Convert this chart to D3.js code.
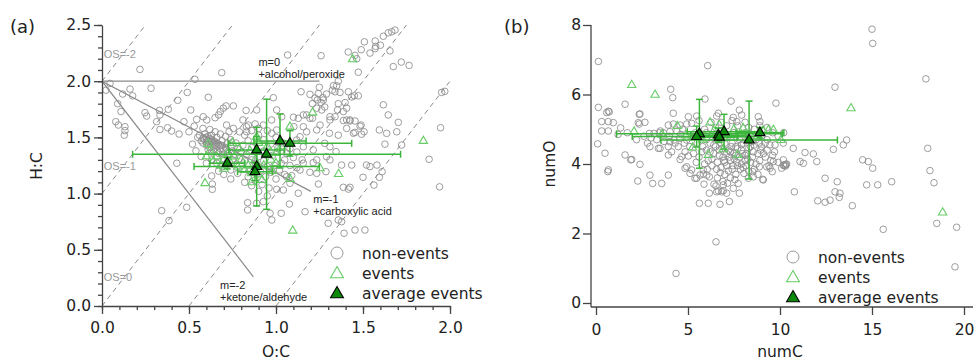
<!DOCTYPE html>
<html>
<head>
<meta charset="utf-8">
<script src="https://cdn.jsdelivr.net/npm/d3@7"></script>
<style>
  body { margin: 0; background: #fff; }
  svg { display: block; font-family: "DejaVu Sans", Verdana, sans-serif; }
</style>
</head>
<body>
<svg id="chart" width="974" height="362"></svg>
<script>
// ---- panel (a): O:C vs H:C ----
const nonEventsA = [
  [0.218,2.105],[0.282,1.937],[0.688,2.076],[0.534,2.017],[0.046,1.98],[0.023,1.92],[0.161,1.93],[0.119,1.886],
  [0.176,1.87],[0.49,1.90],[0.435,1.83],[0.611,1.857],[0.09,1.80],[0.109,1.73],[0.247,1.72],[0.257,1.69],
  [0.33,1.74],[0.333,1.70],[0.381,1.75],[0.51,1.744],[0.079,1.64],[0.094,1.61],[0.132,1.595],[0.132,1.56],
  [0.128,1.52],[0.314,1.64],[0.333,1.57],[0.377,1.586],[0.4,1.557],[0.443,1.53],[0.471,1.64],[0.544,1.66],
  [0.582,1.684],[0.602,1.655],[0.65,1.675],[0.67,1.70],[0.68,1.73],[0.697,1.76],[0.713,1.78],[0.755,1.78],
  [0.828,1.74],[0.889,1.744],[0.716,1.61],[0.755,1.58],[0.81,1.655],[0.83,1.595],[0.79,1.55],[0.43,1.27],
  [1.067,2.233],[1.259,2.227],[1.508,2.35],[1.57,2.358],[1.573,2.31],[1.617,2.40],[1.645,2.43],[1.665,2.44],
  [1.684,2.455],[1.49,2.28],[1.415,2.26],[1.454,2.23],[1.464,2.20],[1.54,2.25],[1.57,2.29],[1.6,2.32],
  [1.655,2.27],[1.674,2.13],[1.72,2.17],[1.765,2.14],[1.473,2.08],[1.358,2.0],[1.349,1.96],[1.33,1.96],
  [1.324,1.92],[1.339,1.906],[1.368,1.90],[1.416,1.906],[1.435,1.86],[1.45,1.87],[1.473,1.87],[1.29,1.886],
  [1.27,1.853],[1.243,1.89],[1.259,1.81],[1.234,1.76],[1.263,1.744],[1.358,1.80],[1.397,1.81],[1.406,1.76],
  [1.354,1.744],[1.387,1.73],[1.339,1.684],[1.31,1.684],[1.144,1.906],[1.195,1.883],[1.224,1.85],[1.209,1.80],
  [0.985,1.853],[1.28,1.77],[1.617,1.79],[1.645,1.70],[1.703,1.634],[1.636,1.536],[1.694,1.55],[1.454,1.646],
  [1.425,1.646],[1.406,1.655],[1.489,1.61],[1.454,1.545],[1.492,1.528],[1.952,1.90],[1.97,1.91],[1.176,1.70],
  [1.195,1.67],[1.253,1.61],[1.234,1.566],[1.946,1.586],[1.88,1.305],[1.722,1.432],[1.626,1.44],[1.594,1.566],
  [1.483,1.60],[1.445,1.537],[1.377,1.254],[1.435,1.254],[1.52,1.254],[1.54,1.24],[1.58,1.254],[1.307,1.537],
  [1.358,1.52],[1.406,1.58],[1.387,1.65],[1.425,1.655],[1.31,1.655],[1.50,1.145],[1.594,1.145],[1.61,1.195],
  [1.94,1.06],[1.387,1.056],[1.425,1.056],[1.358,0.765],[1.391,0.647],[1.454,0.676],[1.511,0.676],[1.30,0.736],
  [1.167,0.839],[1.077,0.907],[1.244,1.085],[1.03,0.825],[0.966,0.825],[0.976,0.765],[0.837,0.919],[0.837,0.854],
  [0.889,0.914],[0.927,0.928],[1.004,1.038],[1.042,1.032],[1.08,1.092],[1.128,1.003],[1.061,1.15],[0.343,0.848],
  [0.385,0.76],[0.487,0.878],[0.63,1.157],[0.634,1.085],[0.634,1.038],[1.563,1.076],[1.416,1.04],[1.377,0.75],
  [1.234,1.18],[1.214,1.275],[1.287,1.195],[1.506,1.55],[1.249,1.946],[1.238,1.833],[1.272,1.833],[1.21,1.67],
  [1.1,1.68],[1.128,1.67],[1.157,1.70],[1.103,1.595],[1.157,1.595],[1.176,1.55],[1.138,1.506],[1.119,1.477],
  [1.004,1.744],[1.033,1.684],[0.975,1.655],[0.927,1.61],[0.841,1.61],[0.831,1.55],[0.899,1.58],[0.975,1.537],
  [1.004,1.566],[1.28,1.447],[1.31,1.417],[1.345,1.373],[1.29,1.328],[1.31,1.30],[1.157,1.417],[1.214,1.388],
  [1.234,1.30],[1.157,1.27],[1.138,1.21],[1.195,1.19],
  [0.56,1.52],[0.58,1.49],[0.6,1.50],[0.61,1.47],[0.62,1.45],[0.63,1.48],[0.64,1.44],[0.65,1.46],
  [0.66,1.42],[0.67,1.44],[0.68,1.40],[0.69,1.43],[0.7,1.39],[0.71,1.41],[0.72,1.37],[0.6,1.43],
  [0.62,1.41],[0.64,1.39],[0.66,1.38],[0.58,1.45],[0.57,1.47],[0.55,1.50],[0.59,1.53],[0.63,1.52],
  [0.66,1.50],[0.69,1.47],[0.72,1.45],[0.74,1.42],[0.75,1.38],[0.73,1.34],[0.7,1.35],[0.67,1.36],
  [0.63,1.37],[0.61,1.39],[0.65,1.55],[0.68,1.53],[0.62,1.57],[0.71,1.51],[0.74,1.48],[0.77,1.45],
  [0.78,1.40],[0.76,1.35],[0.8,1.37],[0.81,1.43],[0.84,1.47],[0.86,1.41],[0.83,1.35],[0.79,1.31],
  [0.75,1.30],[0.7,1.31],[0.66,1.33],[0.72,1.28],[0.77,1.26],[0.82,1.29],[0.86,1.30],[0.9,1.33],
  [0.88,1.27],[0.93,1.29],[0.95,1.24],[0.91,1.20],[0.97,1.19],[0.99,1.25],[1.02,1.21],[0.94,1.15],
  [1.0,1.13],[1.05,1.17],[1.03,1.27],[1.08,1.25],[1.1,1.32],[1.06,1.36],[1.01,1.40],[0.97,1.44],
  [0.93,1.48],[0.9,1.52],[0.95,1.56],[1.0,1.50],[1.04,1.45],[1.08,1.40],[1.12,1.37],[1.15,1.30],
  [1.12,1.23],[1.09,1.16],[0.85,1.20],[0.81,1.22],[0.78,1.18],[0.74,1.21],[0.69,1.24],[0.66,1.27],
  [0.63,1.30],[0.84,1.15],[0.88,1.12],[0.92,1.08],[0.96,1.05],[0.86,1.07],[0.82,1.10],[0.9,1.02],
  [0.95,0.98],[0.74,1.13],[0.7,1.17],[0.67,1.20],[0.6,1.27],[0.57,1.33],[0.54,1.38],[0.52,1.44],
  [0.5,1.55],[0.53,1.6],[0.58,1.58],[0.86,1.56],[0.82,1.52],[0.88,1.62],[0.93,1.38],[0.98,1.34],
  [1.05,1.30],[0.73,1.55],[0.59,1.48],[0.61,1.51],[0.6,1.46],[0.62,1.49],[0.63,1.46],[0.65,1.43],
  [0.64,1.47],[0.66,1.45],[0.68,1.43],[0.61,1.44]
];
const eventsA = [
  [1.44,2.195],[1.21,1.72],[1.847,1.468],[1.36,1.174],[1.08,1.595],[0.592,1.092],[1.096,0.67],[1.08,1.13],
  [0.611,1.44],[1.253,1.225],[0.889,1.506],
  [0.62,1.38],[0.66,1.33],[0.7,1.30],[0.74,1.27],[0.78,1.24],[0.82,1.21],[0.86,1.18],[0.9,1.17],
  [0.84,1.25],[0.8,1.30],[0.76,1.33],[0.72,1.35],[0.68,1.25],[0.64,1.29],[0.88,1.30],[0.93,1.25],
  [0.97,1.30],[1.0,1.36],[0.95,1.42],[0.9,1.45],[0.85,1.38],[0.79,1.40],[1.03,1.42],[0.98,1.20],
  [0.92,1.12],[0.7,1.22],[0.6,1.33],[0.75,1.45],[0.86,1.10],[1.0,1.27]
];
const avgOC    = [0.72, 0.889, 0.946, 1.023, 1.08, 0.889, 0.879];
const avgHC    = [1.27, 1.388, 1.35, 1.468, 1.447, 1.24, 1.195];
const avgOCerr = [0.10, 0.16, 0.77, 0.15, 0.355, 0.36, 0.10];
const avgHCerr = [0.05, 0.12, 0.49, 0.24, 0.113, 0.35, 0.08];

const osValues = [-2, -1, 0, 1, 2];
const xTicksA = [0, 0.5, 1, 1.5, 2];
const yTicksA = [0, 0.5, 1, 1.5, 2, 2.5];

// ---- panel (b): numC vs numO ----
const nonEventsB = [
  [0.13,6.95],[15.0,7.88],[15.04,7.47],[17.93,6.45],[12.99,6.21],[6.07,6.83],[4.06,6.15],[4.17,5.91],
  [5.92,5.87],[0.13,5.63],[0.67,5.52],[1.58,5.72],[4.2,5.46],[7.34,5.81],[9.78,5.75],[7.79,5.55],
  [0.31,5.22],[0.67,5.22],[0.94,5.19],[0.31,4.95],[0.67,4.95],[0.09,4.58],[0.49,4.31],[1.58,4.26],
  [1.89,4.12],[2.39,3.99],[2.35,5.15],[2.66,5.2],[2.35,5.43],[1.34,5.04],[2.9,4.88],[3.15,4.88],
  [3.44,4.9],[3.66,4.9],[3.93,5.12],[4.2,5.15],[4.57,5.12],[4.93,5.15],[5.2,5.17],[4.02,4.93],
  [2.93,4.5],[3.48,4.45],[3.93,4.5],[3.93,4.26],[4.11,4.35],[4.66,4.21],[5.02,4.23],[4.84,4.35],
  [4.47,4.5],[4.24,4.69],[4.57,4.74],[4.93,4.69],[5.2,4.79],
  [10.27,3.97],[10.32,3.99],[10.22,3.95],[10.36,4.0],[10.3,3.94],
  [10.72,4.45],[11.36,4.33],[11.81,4.29],[12.0,4.07],[12.45,3.59],[12.9,4.42],[13.44,4.55],[13.62,4.69],
  [14.49,4.12],[14.8,4.07],[15.04,3.88],[18.15,3.81],[18.03,4.45],[13.11,3.49],[12.99,3.2],[13.26,3.16],
  [13.22,3.04],[12.05,2.94],[12.45,2.9],[12.72,2.96],[13.93,2.8],[14.71,3.4],[15.31,3.4],[16.07,3.49],
  [15.61,2.12],[18.37,3.46],[18.52,2.29],[19.6,2.18],[19.51,1.04],[10.78,3.2],[4.35,0.85],[6.52,1.76],
  [2.27,3.51],[3.08,3.44],[3.57,3.44],[3.93,3.68],[2.93,3.68],[0.64,3.78],[5.62,2.87],[6.1,2.87],
  [6.74,2.84],[7.25,2.92],[7.79,3.16],[7.46,3.3],[6.83,3.2],[6.56,3.2],[6.16,3.16],[5.87,3.42],
  [5.47,3.59],[6.92,3.4],[9.09,3.54],[8.55,3.63],[9.58,3.78],[7.1,3.16],[6.92,3.23],[6.65,3.23],
  [6.52,3.37],[7.73,3.44],[6.41,3.42],[5.11,3.73],[5.38,3.59],[4.84,3.88],[5.83,3.71],[6.16,3.63],
  [9.06,3.56],[8.28,3.59],[8.52,3.78],[8.04,3.73],[8.88,3.92],[9.28,3.92],[9.46,3.88],[10.18,3.97],
  [11.09,4.07],[11.27,4.02],[0.58,5.48],[0.72,5.5],[2.39,5.44],[2.3,5.19],[5.02,5.36],[5.47,5.38],
  [6.56,5.38],[6.65,5.46],[7.46,5.34],[7.92,5.41],[8.82,5.36],[8.91,5.22],[7.65,5.22],[0.67,3.83],
  [1.94,4.13],[4.57,4.13],[4.02,4.64],[3.39,4.45],[9.64,4.07],[10.18,4.12],[10.09,3.88],[9.73,4.55],
  [10.18,4.6],[4.93,3.92],[5.2,3.83],[5.83,3.83],[6.02,3.68],[5.65,3.68],
  [5.5,4.6],[5.8,4.5],[6.0,4.4],[6.2,4.6],[6.4,4.3],[6.5,4.5],[6.7,4.4],[6.9,4.2],
  [7.0,4.6],[7.2,4.4],[7.3,4.1],[7.5,4.3],[7.6,4.5],[7.8,4.2],[7.9,4.4],[8.1,4.1],
  [8.2,4.3],[8.4,4.5],[8.5,4.2],[8.7,4.0],[8.8,4.3],[9.0,4.5],[9.2,4.2],[9.3,4.4],
  [9.5,4.1],[6.1,4.1],[6.3,3.95],[6.6,4.05],[6.8,3.9],[7.1,3.95],[7.4,3.85],[7.7,3.95],
  [8.0,3.9],[8.3,3.8],[8.6,3.85],[7.0,3.7],[7.3,3.6],[7.6,3.7],[6.9,3.5],[5.6,4.2],
  [5.9,4.0],[5.3,4.3],[5.1,4.5],[5.4,4.9],[5.7,4.8],[6.0,4.9],[6.3,4.8],[6.6,4.7],
  [6.9,4.9],[7.2,4.8],[7.5,4.9],[7.8,4.7],[8.1,4.9],[8.4,4.8],[8.7,4.7],[9.0,4.8],
  [9.3,4.7],[9.6,4.9],[9.9,4.8],[10.2,4.9],[5.9,5.0],[6.5,5.05],[7.1,5.1],[7.7,5.1],
  [8.3,5.05],[8.9,5.1],[6.0,4.7],[6.8,4.6],[7.4,4.6],[8.0,4.6],[8.6,4.55],[9.2,4.6],
  [7.1,4.3],[7.9,4.0],[8.9,4.1],[6.4,4.55],[7.7,4.45],[8.3,4.45],[7.0,4.05],[7.5,4.15],
  [8.1,4.25],[6.7,4.25],[7.3,4.35],[7.9,4.55],[8.5,4.65],[6.2,4.35],[9.7,4.35],[9.9,4.05],
  [9.4,3.95],[8.8,3.7],[2.6,4.8],[3.0,4.75],[3.3,4.7],[3.7,4.65],[4.0,4.8],[4.3,4.6],
  [4.6,4.85],[4.8,4.6],[2.2,4.7],[1.7,4.9],[1.2,4.85],[3.5,4.95],[4.4,4.95],[2.8,4.6],
  [6.3,4.15],[6.55,3.85],[6.75,3.75],[7.2,3.8],[7.45,3.95],[7.65,4.05],[7.85,3.85],[8.15,3.95],
  [8.4,4.05],[8.25,4.15],[7.55,3.55],[7.15,3.45],[6.6,3.6],[6.95,4.1],[7.25,4.2],[7.6,4.25],
  [7.95,4.3],[8.55,4.35],[8.95,4.4],[6.85,4.45],[7.35,4.5],[6.55,4.85],[7.05,4.75],[7.6,4.8],
  [8.2,4.7],[8.85,4.6],[9.45,4.55],[5.75,4.35],[5.45,4.05],[6.05,3.85],[9.1,4.3],[9.6,4.25],
  [6.8,5.2],[7.4,5.25],[8.1,5.2],[5.6,5.25],[6.25,5.2],[8.6,5.0],[9.3,5.05],[4.7,5.0]
];
const eventsB = [
  [1.94,6.27],[3.21,5.99],[13.86,5.6],[18.84,2.60],[2.07,4.93],[4.42,5.09],[6.2,5.19],[6.7,5.12],
  [8.0,5.03],[9.37,4.98],[9.64,4.98],[5.25,4.47],[6.11,4.26],[7.7,4.26],[6.92,4.42],[10.05,4.69],
  [5.8,4.7],[7.3,4.75],[7.9,4.85],[8.6,4.8],[9.1,4.95],[4.9,4.82],[3.6,4.85],[6.4,4.95],[7.5,5.0]
];
const avgC    = [5.62, 5.47, 6.96, 6.65, 6.70, 8.32, 8.91];
const avgO    = [4.87, 4.79, 4.93, 4.83, 4.77, 4.69, 4.90];
const avgCerr = [4.5, 3.5, 2.0, 1.5, 1.0, 4.8, 1.3];
const avgOerr = [0.99, 0.3, 0.5, 0.2, 0.15, 1.12, 0.15];

const xTicksB = [0, 5, 10, 15, 20];
const yTicksB = [0, 2, 4, 6, 8];

const legendLabels = ["non-events", "events", "average events"];

// ---------------------------------------------------------------
const FONT = "DejaVu Sans, Verdana, sans-serif";
const ANNOT = "Liberation Sans, Arial, sans-serif";
const AXIS_COL = "#444";
const GRAY = "#8c8c8c";
const EV_GREEN = "#66cc66";
const BAR_GREEN = "#3db53d";
const AVG_FILL = "#0b8a0b";

const svg = d3.select("#chart");

const triEvent = d3.symbol().type(d3.symbolTriangle).size(30);
const triAvg = d3.symbol().type(d3.symbolTriangle).size(44);
const triLegend = d3.symbol().type(d3.symbolTriangle).size(72);

function styleAxis(g) {
  g.attr("font-size", 15.5).attr("font-family", FONT);
  g.select(".domain").attr("stroke", AXIS_COL).attr("stroke-width", 1.3);
  g.selectAll(".tick line").attr("stroke", AXIS_COL).attr("stroke-width", 1.3);
  g.selectAll(".tick text").attr("fill", "#222");
}

function drawPoints(g, x, y, nonEv, ev) {
  g.append("g").selectAll("circle").data(nonEv).join("circle")
    .attr("cx", d => x(d[0])).attr("cy", d => y(d[1])).attr("r", 3.3)
    .attr("fill", "none").attr("stroke", GRAY).attr("stroke-opacity", 0.85).attr("stroke-width", 1);

  g.append("g").selectAll("path").data(ev).join("path")
    .attr("d", triEvent)
    .attr("transform", d => `translate(${x(d[0])},${y(d[1])})`)
    .attr("fill", "none").attr("stroke", EV_GREEN).attr("stroke-width", 1.1);
}

function drawAverages(g, x, y, xs, ys, xe, ye) {
  const bars = g.append("g").attr("stroke", BAR_GREEN).attr("stroke-width", 1.5);
  xs.forEach((v, i) => {
    const cy = y(ys[i]), cx = x(v);
    const x0 = x(v - xe[i]), x1 = x(v + xe[i]);
    const y0 = y(ys[i] - ye[i]), y1 = y(ys[i] + ye[i]);
    bars.append("line").attr("x1", x0).attr("x2", x1).attr("y1", cy).attr("y2", cy);
    bars.append("line").attr("x1", x0).attr("x2", x0).attr("y1", cy - 3.5).attr("y2", cy + 3.5);
    bars.append("line").attr("x1", x1).attr("x2", x1).attr("y1", cy - 3.5).attr("y2", cy + 3.5);
    bars.append("line").attr("x1", cx).attr("x2", cx).attr("y1", y0).attr("y2", y1);
    bars.append("line").attr("x1", cx - 3.5).attr("x2", cx + 3.5).attr("y1", y0).attr("y2", y0);
    bars.append("line").attr("x1", cx - 3.5).attr("x2", cx + 3.5).attr("y1", y1).attr("y2", y1);
  });
  g.append("g").selectAll("path").data(xs).join("path")
    .attr("d", triAvg)
    .attr("transform", (d, i) => `translate(${x(d)},${y(ys[i])})`)
    .attr("fill", AVG_FILL).attr("stroke", "#000").attr("stroke-width", 1.1);
}

function drawLegend(g, lx, ly) {
  const rows = g.append("g");
  legendLabels.forEach((t, i) => {
    const cy = ly + i * 20;
    if (i === 0) {
      rows.append("circle").attr("cx", lx).attr("cy", cy).attr("r", 6)
        .attr("fill", "none").attr("stroke", "#9a9a9a");
    } else {
      rows.append("path").attr("d", triLegend).attr("transform", `translate(${lx},${cy + 1})`)
        .attr("fill", i === 1 ? "none" : AVG_FILL)
        .attr("stroke", i === 1 ? EV_GREEN : "#000").attr("stroke-width", 1.1);
    }
    rows.append("text").attr("x", lx + 25).attr("y", cy).attr("dy", "0.36em")
      .attr("font-size", 15.5).attr("fill", "#222").text(t);
  });
}

// ================= panel (a) =================
const xA = d3.scaleLinear().domain([0, 2]).range([102, 450]);
const yA = d3.scaleLinear().domain([0, 2.5]).range([306, 25]);
const gA = svg.append("g");

gA.append("clipPath").attr("id", "clipA").append("rect")
  .attr("x", 102).attr("y", 25).attr("width", 348).attr("height", 281);

const refA = gA.append("g").attr("clip-path", "url(#clipA)");
// oxidation state lines, H:C = 2*O:C - OS
osValues.forEach(os => {
  const o0 = Math.max(0, os / 2), o1 = Math.min(2, (2.5 + os) / 2);
  refA.append("line")
    .attr("x1", xA(o0)).attr("y1", yA(2 * o0 - os))
    .attr("x2", xA(o1)).attr("y2", yA(2 * o1 - os))
    .attr("stroke", "#8a8a8a").attr("stroke-width", 1).attr("stroke-dasharray", "5,4");
});
// functionalisation lines from (0, 2)
[[1.25, 2.0], [1.2, 1.02], [0.87, 0.26]].forEach(e => {
  refA.append("line")
    .attr("x1", xA(0)).attr("y1", yA(2))
    .attr("x2", xA(e[0])).attr("y2", yA(e[1]))
    .attr("stroke", "#8a8a8a").attr("stroke-width", 1.2);
});

drawPoints(gA, xA, yA, nonEventsA, eventsA);
drawAverages(gA, xA, yA, avgOC, avgHC, avgOCerr, avgHCerr);

// axes
gA.append("g").attr("transform", "translate(0,306)")
  .call(d3.axisBottom(xA).tickValues(d3.range(0, 2.001, 0.1)).tickSize(4).tickFormat("").tickSizeOuter(0))
  .call(g => g.select(".domain").remove())
  .call(styleAxis);
gA.append("g").attr("transform", "translate(102,0)")
  .call(d3.axisLeft(yA).tickValues(d3.range(0, 2.501, 0.1)).tickSize(4).tickFormat("").tickSizeOuter(0))
  .call(g => g.select(".domain").remove())
  .call(styleAxis);
gA.append("g").attr("transform", "translate(0,306)")
  .call(d3.axisBottom(xA).tickValues(xTicksA).tickSize(8).tickSizeOuter(0).tickFormat(d3.format(".1f")))
  .call(styleAxis)
  .call(g => g.selectAll(".tick text").attr("y", 27).attr("dy", null));
gA.append("g").attr("transform", "translate(102,0)")
  .call(d3.axisLeft(yA).tickValues(yTicksA).tickSize(8).tickPadding(3).tickSizeOuter(0).tickFormat(d3.format(".1f")))
  .call(styleAxis);

// annotations
const annA = gA.append("g").attr("font-family", ANNOT).attr("font-size", 11);
[["OS=-2", 2.21], ["OS=-1", 1.21], ["OS=0", 0.22]].forEach(a => {
  annA.append("text").attr("x", xA(0.01)).attr("y", yA(a[1])).attr("fill", "#999").text(a[0]);
});
[["m=0", "+alcohol/peroxide", 0.899, 2.135],
 ["m=-1", "+carboxylic acid", 1.214, 0.915],
 ["m=-2", "+ketone/aldehyde", 0.678, 0.155]].forEach(a => {
  const t = annA.append("text").attr("fill", "#222");
  t.append("tspan").attr("x", xA(a[2])).attr("y", yA(a[3])).text(a[0]);
  t.append("tspan").attr("x", xA(a[2])).attr("dy", 12).text(a[1]);
});

svg.append("text").attr("x", 10).attr("y", 33).attr("font-size", 18).attr("fill", "#222").text("(a)");
svg.append("text").attr("transform", "translate(42,166) rotate(-90)").attr("text-anchor", "middle")
  .attr("font-size", 15.5).attr("fill", "#222").text("H:C");
svg.append("text").attr("x", 276).attr("y", 357).attr("text-anchor", "middle")
  .attr("font-size", 15.5).attr("fill", "#222").text("O:C");

drawLegend(gA, 337, 253);

// ================= panel (b) =================
const xB = d3.scaleLinear().domain([0, 20]).range([596, 964]);
const yB = d3.scaleLinear().domain([0, 8]).range([303, 25]);
const gB = svg.append("g");

drawPoints(gB, xB, yB, nonEventsB, eventsB);
drawAverages(gB, xB, yB, avgC, avgO, avgCerr, avgOerr);

gB.append("line").attr("x1", 591).attr("x2", 591).attr("y1", 25).attr("y2", 307)
  .attr("stroke", AXIS_COL).attr("stroke-width", 1.3);
gB.append("line").attr("x1", 591).attr("x2", 973).attr("y1", 307).attr("y2", 307)
  .attr("stroke", AXIS_COL).attr("stroke-width", 1.3);

gB.append("g").attr("transform", "translate(0,307)")
  .call(d3.axisBottom(xB).tickValues(xTicksB).tickSize(8).tickSizeOuter(0))
  .call(g => g.select(".domain").remove())
  .call(styleAxis)
  .call(g => g.selectAll(".tick text").attr("y", 28).attr("dy", null));
gB.append("g").attr("transform", "translate(591,0)")
  .call(d3.axisLeft(yB).tickValues(yTicksB).tickSize(8).tickPadding(2).tickSizeOuter(0))
  .call(g => g.select(".domain").remove())
  .call(styleAxis);

svg.append("text").attr("x", 504).attr("y", 33).attr("font-size", 18).attr("fill", "#222").text("(b)");
svg.append("text").attr("transform", "translate(555,164) rotate(-90)").attr("text-anchor", "middle")
  .attr("font-size", 15.5).attr("fill", "#222").text("numO");
svg.append("text").attr("x", 780).attr("y", 357).attr("text-anchor", "middle")
  .attr("font-size", 15.5).attr("fill", "#222").text("numC");

drawLegend(gB, 793, 257);
</script>
</body>
</html>
